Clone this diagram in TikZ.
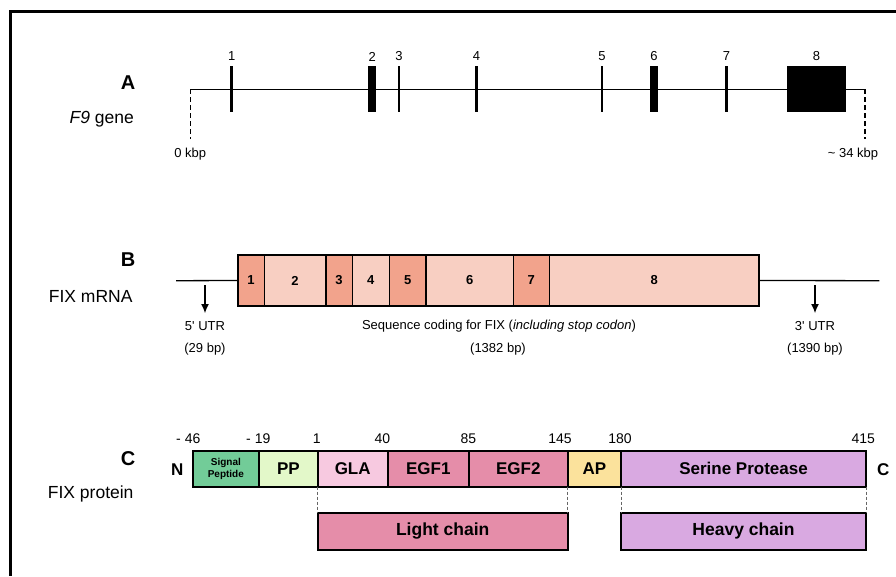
\documentclass[tikz,border=0pt]{standalone}
\usepackage{fontspec}
\setmainfont{Liberation Sans}
\usetikzlibrary{arrows.meta}
\newcommand\fsz[1]{\fontsize{#1}{#1}\selectfont}
% exon shades for the mRNA
\definecolor{exdark}{HTML}{F2A38C}
\definecolor{exlight}{HTML}{F8CFC2}
% protein domain colours
\definecolor{sigc}{HTML}{72CC98}
\definecolor{ppc}{HTML}{E3F8C9}
\definecolor{glac}{HTML}{F7C9E0}
\definecolor{egfc}{HTML}{E58DA9}
\definecolor{apc}{HTML}{FBE29C}
\definecolor{serc}{HTML}{D9A9E1}
\tikzset{
  panel/.style={font=\fsz{20}\bfseries, inner sep=0},
  caption/.style={font=\fsz{17.5}, inner sep=0},
  lbl/.style={font=\fsz{13}, inner sep=0},
  num/.style={font=\fsz{14}, inner sep=0},
  exon/.style={fill=black, inner sep=0, outer sep=0, minimum height=46},
  seg/.style={draw, line width=1.6, inner sep=0, outer sep=0, minimum height=51, font=\fsz{13}\bfseries},
  dom/.style={draw, line width=1.8, inner sep=0, outer sep=0, minimum height=36, font=\fsz{17}\bfseries},
  chain/.style={draw, line width=1.8, inner sep=0, outer sep=0, minimum height=37, font=\fsz{17.5}\bfseries},
  guide/.style={dashed, dash pattern=on 5pt off 3pt, line width=1.3},
  fine/.style={densely dashed, line width=0.7, black!60},
  utr/.style={line width=1.1, -{Latex[length=9pt,width=8pt]}},
}
\begin{document}
\begin{tikzpicture}[x=1pt,y=-1pt]
\useasboundingbox (0,0) rectangle (896,576);
% outer frame
\draw[line width=2.6] (896,11.3) -- (10.7,11.3) -- (10.7,576);

% ---------- A: gene ----------
\node[panel] (pA) at (128,83) {A};
\node[caption] (capA) at (101.7,119.5) {\textit{F9} gene};
\coordinate (g0) at (190.3,89.3);
\coordinate (g1) at (865,89.3);
\coordinate (g0b) at (190.3,139);
\coordinate (g1b) at (865,139);
\draw[line width=1.4] (g0) -- (g1);
\draw[guide] (g0) -- (g0b);
\draw[guide] (g1) -- (g1b);
\node[lbl] (kb0) at (190.3,154) {0 kbp};
\node[lbl] (kb1) at (853,154) {\textasciitilde{} 34 kbp};
% exons with their numbers above
\foreach \n/\x/\w in {1/231.7/2.8, 2/372.2/7.8, 3/399/2.8, 4/476.5/2.8,
                      5/602/2.8, 6/653.9/7.8, 7/726.6/2.8, 8/816.4/59.3}{
  \node[exon, minimum width=\w] (e\n) at (\x,89.3) {};
  \node[lbl] (n\n) at (\x,56.5) {\n};
}

% ---------- B: mRNA ----------
\node[panel] (pB) at (128,260) {B};
\node[caption] (capB) at (90.7,296) {FIX mRNA};
\coordinate (m0) at (176,280.7);
\coordinate (m1) at (879.3,280.7);
\node[seg, fill=exdark,  minimum width=26.6]  (b1) at (251,280.5) {1};
\node[seg, fill=exlight, minimum width=61.4]  (b2) at (295,280.5) {2};
\node[seg, fill=exdark,  minimum width=26.6]  (b3) at (339,280.5) {3};
\node[seg, fill=exlight, minimum width=37]    (b4) at (370.8,280.5) {4};
\node[seg, fill=exdark,  minimum width=36.7]  (b5) at (407.65,280.5) {5};
\node[seg, fill=exlight, minimum width=87.3]  (b6) at (469.65,280.5) {6};
\node[seg, fill=exdark,  minimum width=36]    (b7) at (531.3,280.5) {7};
\node[seg, fill=exlight, minimum width=209.7] (b8) at (654.15,280.5) {8};
\draw[line width=1.3] (m0) -- (b1.west);
\draw[line width=1.3] (b8.east) -- (m1);
\coordinate (u5a) at (205,285);
\coordinate (u5b) at (205,313);
\coordinate (u3a) at (815,285);
\coordinate (u3b) at (815,313);
\draw[utr] (u5a) -- (u5b);
\draw[utr] (u3a) -- (u3b);
\node[lbl] (t5) at (205,326) {5\textquotesingle{} UTR};
\node[lbl] (t5n) at (205,349.3) {(29 bp)};
\node[lbl] (tc) at (499,326) {Sequence coding for FIX (\textit{including stop codon})};
\node[lbl] (tcn) at (498,349.3) {(1382 bp)};
\node[lbl] (t3) at (815,326) {3\textquotesingle{} UTR};
\node[lbl] (t3n) at (815,349.3) {(1390 bp)};

% ---------- C: protein ----------
\node[panel] (pC) at (128,458.3) {C};
\node[caption] (capC) at (90.7,494) {FIX protein};
\node[font=\fsz{17}\bfseries, inner sep=0] (nN) at (177.3,469.5) {N};
\node[font=\fsz{17}\bfseries, inner sep=0] (nC) at (883.3,469.5) {C};
\node[dom, fill=sigc, minimum width=66.3, font=\fontsize{10}{11.5}\selectfont\bfseries, align=center] (sp) at (225.85,468.7) {Signal\\Peptide};
\node[dom, fill=ppc,  minimum width=58.7] (pp)   at (288.35,468.7) {PP};
\node[dom, fill=glac, minimum width=70]   (gla)  at (352.7,468.7) {GLA};
\node[dom, fill=egfc, minimum width=81.3] (egf1) at (428.35,468.7) {EGF1};
\node[dom, fill=egfc, minimum width=98.7] (egf2) at (518.35,468.7) {EGF2};
\node[dom, fill=apc,  minimum width=53.3] (ap)   at (594.35,468.7) {AP};
\node[dom, fill=serc, minimum width=245]  (ser)  at (743.5,468.7) {Serine Protease};
\node[chain, fill=egfc, minimum width=250] (light) at (442.7,531.4) {Light chain};
\node[chain, fill=serc, minimum width=245] (heavy) at (743.5,531.4) {Heavy chain};
\draw[fine] (gla.south west) -- (light.north west);
\draw[fine] (egf2.south east) -- (light.north east);
\draw[fine] (ser.south west) -- (heavy.north west);
\draw[fine] (ser.south east) -- (heavy.north east);
\node[num] (r1) at (188.3,438.3) {- 46};
\node[num] (r2) at (258.3,438.3) {- 19};
\node[num] (r3) at (316.7,438.3) {1};
\node[num] (r4) at (382.3,438.3) {40};
\node[num] (r5) at (468.3,438.3) {85};
\node[num] (r6) at (560,438.3) {145};
\node[num] (r7) at (620,438.3) {180};
\node[num] (r8) at (863.3,438.3) {415};
\end{tikzpicture}
\end{document}
